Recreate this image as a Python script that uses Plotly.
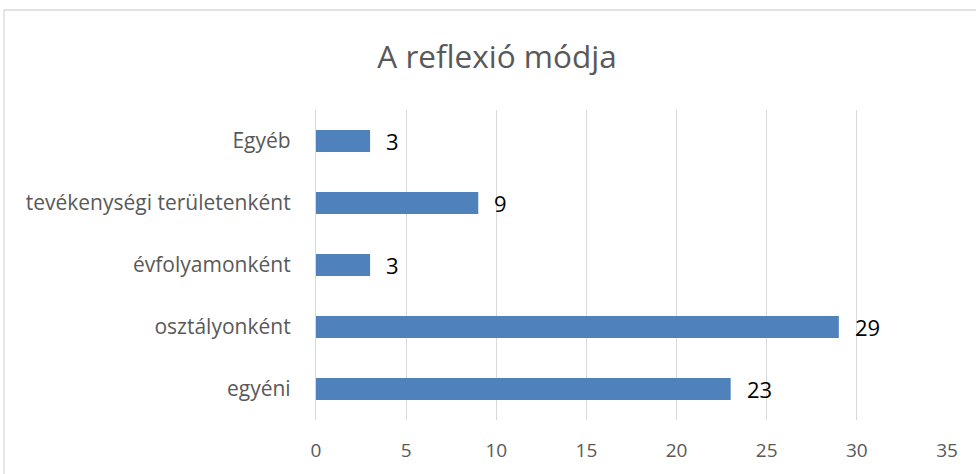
import plotly.graph_objects as go

categories = ["egyéni", "osztályonként", "évfolyamonként", "tevékenységi területenként", "Egyéb"]
values = [23, 29, 3, 9, 3]
x_ticks = [0, 5, 10, 15, 20, 25, 30, 35]
title_text = "A reflexió módja"

FONT = "Open Sans"
GREY = "#595959"

fig = go.Figure()
fig.add_trace(go.Bar(
    y=categories, x=values, orientation="h",
    marker=dict(color="#4f81bd", line=dict(width=0)),
    width=0.355,
    hoverinfo="x+y",
))

for c, v in zip(categories, values):
    fig.add_annotation(x=v, y=c, text=str(v), showarrow=False,
                       xanchor="left", yanchor="middle", xshift=14,
                       font=dict(family=FONT, size=22, color="black"))

fig.update_layout(
    width=976, height=474,
    margin=dict(l=316, r=29, t=110, b=54),
    paper_bgcolor="white", plot_bgcolor="white",
    showlegend=False,
    title=dict(text=title_text, x=497 / 976, xanchor="center", y=1 - 57 / 474, yanchor="middle",
               yref="container", font=dict(family=FONT, size=31.5, color=GREY)),
    xaxis=dict(range=[0, 35], tickvals=x_ticks, showgrid=True, gridcolor="#d9d9d9", gridwidth=1.3,
               zeroline=False, showline=False, ticks="",
               tickfont=dict(family=FONT, size=19, color=GREY), ticklabelstandoff=17),
    yaxis=dict(showgrid=False, zeroline=False, showline=True, linecolor="#d9d9d9", linewidth=1.3,
               ticks="", tickfont=dict(family=FONT, size=21, color=GREY), ticklabelstandoff=20),
    shapes=[dict(type="rect", xref="paper", yref="paper",
                 x0=(4 - 316) / 631, x1=2, y0=-1, y1=(420 - 10) / 310,
                 line=dict(color="#d9d9d9", width=1.3), layer="below")],
)

fig.write_html("out.html", config={"displayModeBar": False},
               post_script="document.body.style.margin='0';")
